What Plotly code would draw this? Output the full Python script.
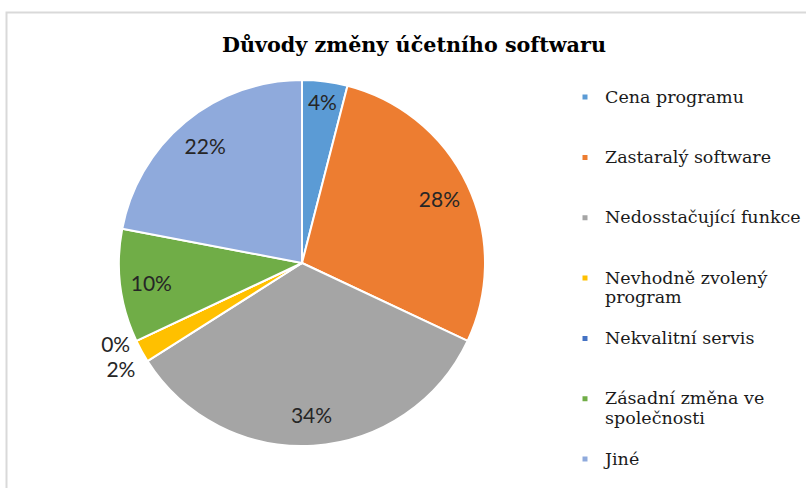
import textwrap
import plotly.graph_objects as go

# ---- data ----
categories = [
    "Cena programu",
    "Zastaralý software",
    "Nedosstačující funkce",
    "Nevhodně zvolený program",
    "Nekvalitní servis",
    "Zásadní změna ve společnosti",
    "Jiné",
]
shares = [4, 28, 34, 2, 0, 10, 22]
colors = ["#5B9BD5", "#ED7D31", "#A5A5A5", "#FFC000", "#4472C4", "#70AD47", "#8FAADC"]
title_text = "Důvody změny účetního softwaru"

W, H = 806, 488
LEG_FONT = 14.7      # controls the vertical rhythm of legend entries
LEG_TEXT = 17.5      # visible size of legend text

# legend labels: wrap like the original and pad so entries are evenly spaced
legend_labels = []
for i, c in enumerate(categories):
    lines = textwrap.wrap(c, 22)
    shown = "<br>".join(f"<span style='font-size:{LEG_TEXT}px'>{ln}</span>" for ln in lines)
    pad = 0 if i == len(categories) - 1 else 3 - len(lines)
    legend_labels.append(shown + "<br> " * pad)

text_pos = ["inside" if v >= 4 else "outside" for v in shares]
domain = dict(x=[(302 - 183) / W, (302 + 183) / W], y=[1 - 446 / H, 1 - 80 / H])

fig = go.Figure()
# the coloured pie
fig.add_trace(
    go.Pie(
        labels=legend_labels,
        values=shares,
        sort=False,
        direction="clockwise",
        rotation=0,
        marker=dict(colors=colors, line=dict(color="white", width=2)),
        textinfo="none",
        hovertemplate="%{label}: %{percent}<extra></extra>",
        domain=domain,
    )
)
# transparent ring on top that carries the percentage labels (places them near the rim)
fig.add_trace(
    go.Pie(
        labels=categories,
        values=shares,
        sort=False,
        direction="clockwise",
        rotation=0,
        hole=0.66,
        marker=dict(colors=["rgba(0,0,0,0)"] * len(shares), line=dict(width=0)),
        texttemplate="%{percent:.0%}",
        textposition=text_pos,
        insidetextorientation="horizontal",
        textfont=dict(family="Lato", size=21, color="#262626"),
        hoverinfo="skip",
        showlegend=False,
        domain=domain,
    )
)

fig.update_layout(
    width=W,
    height=H,
    margin=dict(l=0, r=0, t=0, b=0),
    paper_bgcolor="white",
    plot_bgcolor="white",
    uniformtext=dict(minsize=21, mode="show"),
    title=dict(
        text="<b>" + title_text + "</b>",
        font=dict(family="DejaVu Serif", size=20.7, color="#000000"),
        x=414 / W,
        xanchor="center",
        y=1 - 45 / H,
        yanchor="middle",
    ),
    legend=dict(
        x=565 / W,
        xanchor="left",
        y=1 - 81 / H,
        yanchor="top",
        valign="top",
        font=dict(family="DejaVu Serif", size=LEG_FONT, color="#1A1A1A"),
        bgcolor="rgba(0,0,0,0)",
    ),
    shapes=[
        dict(
            type="rect",
            xref="paper",
            yref="paper",
            x0=6.5 / W,
            x1=1.05,
            y0=-0.05,
            y1=1 - 12.5 / H,
            line=dict(color="#D9D9D9", width=2),
            fillcolor="rgba(0,0,0,0)",
            layer="below",
        )
    ],
)

post = (
    "document.body.style.margin='0';"
    "document.querySelectorAll('path.textline').forEach(function(p){p.remove();});"
    "document.querySelectorAll('.legendpoints path').forEach(function(p){"
    "p.setAttribute('d','M3.5,3.5H-3.5V-3.5H3.5Z');});"
)
fig.write_html("out.html", post_script=post, config={"displayModeBar": False})
